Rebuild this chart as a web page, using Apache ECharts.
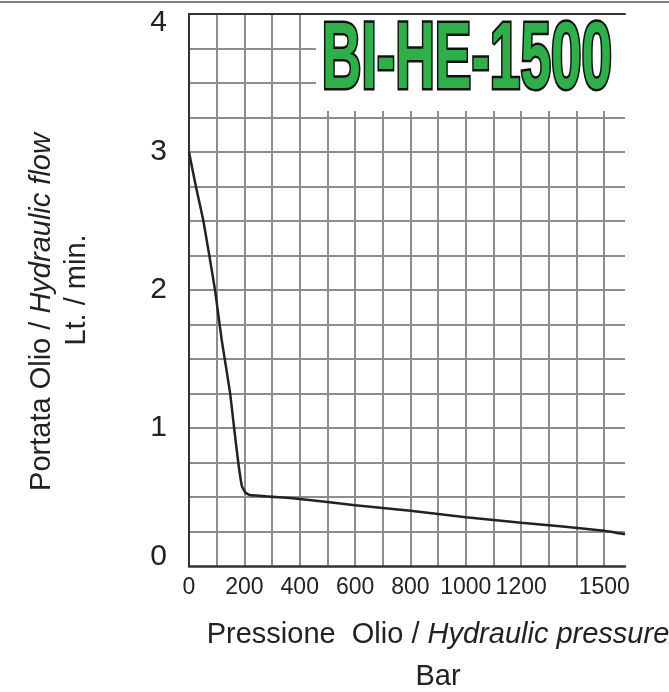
<!DOCTYPE html>
<html>
<head>
<meta charset="utf-8">
<script src="https://cdn.jsdelivr.net/npm/echarts@6/dist/echarts.min.js"></script>
<style>
  html, body { margin: 0; padding: 0; background: #fff; }
  #chart { width: 669px; height: 692px; }
</style>
</head>
<body>
<div id="chart"></div>
<script>
  // pressione (bar) / portata (l/min)
  const pressure = [0, 25, 52, 94, 118, 148, 163, 178, 191, 205, 220, 400, 600, 800, 1000, 1200, 1500, 1575]
  const flow = [3.0, 2.75, 2.5, 2.0, 1.64, 1.26, 1.0, 0.75, 0.58, 0.53, 0.515, 0.486, 0.44, 0.4, 0.353, 0.314, 0.256, 0.23]
  const xTickLabels = ['0', '200', '400', '600', '800', '1000', '1200', '1500']
  const yTickLabels = ['0', '1', '2', '3', '4']
  const titleText = 'BI-HE-1500'

  const gridColor = '#8a8c96'
  const textColor = '#222'

  const chart = echarts.init(document.getElementById('chart'))

  const option = {
    animation: false,
    grid: {
      left: 189,
      right: 44,
      top: 14,
      bottom: 126,
      containLabel: false,
      outerBoundsMode: 'none',
    },
    xAxis: [
      {
        type: 'value',
        min: 0,
        max: 1575,
        interval: 100,
        name: '{a|Pressione  Olio / }{b|Hydraulic pressure}\n{a|Bar}',
        nameLocation: 'middle',
        nameGap: 48,
        nameTextStyle: {
          padding: [0, 0, 0, 62],
          rich: {
            a: { fontFamily: 'Liberation Sans', fontSize: 29, color: textColor, lineHeight: 42 },
            b: { fontFamily: 'Liberation Sans', fontSize: 29, color: textColor, lineHeight: 42, fontStyle: 'italic' },
          },
        },
        axisLine: { show: true, onZero: false, lineStyle: { color: '#333', width: 2.5 } },
        axisTick: { show: false },
        axisLabel: {
          margin: 10,
          fontFamily: 'Liberation Sans',
          fontSize: 23,
          color: textColor,
          formatter: (v) => (xTickLabels.includes(String(v)) ? String(v) : ''),
        },
        splitLine: {
          show: true,
          showMinLine: false,
          showMaxLine: false,
          lineStyle: { color: gridColor, width: 2 },
        },
      },
      {
        // bordo superiore
        type: 'value',
        position: 'top',
        min: 0,
        max: 1575,
        axisLine: { show: true, onZero: false, lineStyle: { color: '#333', width: 2 } },
        axisTick: { show: false },
        axisLabel: { show: false },
        splitLine: { show: false },
      },
    ],
    yAxis: {
      type: 'value',
      min: 0,
      max: 4,
      interval: 0.25,
      name: '{a|Portata Olio / }{c|Hydraulic flow}\n{a|Lt. / min.}',
      nameLocation: 'middle',
      nameRotate: 90,
      nameGap: 95,
      nameTextStyle: {
        rich: {
          a: { fontFamily: 'Liberation Sans', fontSize: 29, color: textColor, lineHeight: 35 },
          c: {
            fontFamily: 'Liberation Sans', fontSize: 29, color: textColor, lineHeight: 35,
            fontStyle: 'italic', padding: [0, 44, 0, 0],
          },
        },
      },
      axisLine: { show: true, lineStyle: { color: '#333', width: 2 } },
      axisTick: { show: false },
      axisLabel: {
        margin: 22,
        fontFamily: 'Liberation Sans',
        fontSize: 30,
        lineHeight: 18,
        color: textColor,
        verticalAlignMinLabel: 'bottom',
        verticalAlignMaxLabel: 'top',
        formatter: (v) => (yTickLabels.includes(String(v)) ? String(v) : ''),
      },
      splitLine: {
        show: true,
        showMinLine: false,
        showMaxLine: false,
        lineStyle: { color: gridColor, width: 2 },
      },
    },
    series: [
      {
        type: 'line',
        data: pressure.map((p, i) => [p, flow[i]]),
        symbol: 'none',
        smooth: 0.15,
        lineStyle: { color: '#222', width: 2.5 },
        z: 5,
      },
    ],
    graphic: [
      {
        type: 'line',
        z: 100,
        shape: { x1: 0, y1: 2, x2: 669, y2: 2 },
        style: { stroke: '#555', lineWidth: 1.5 },
      },
      {
        type: 'rect',
        z: 100,
        shape: { x: 316, y: 15, width: 309, height: 96 },
        style: { fill: '#fff' },
      },
      {
        type: 'text',
        z: 101,
        x: 467,
        y: 62,
        scaleX: 0.585,
        style: {
          text: titleText,
          font: 'bold 94px "Liberation Sans"',
          fill: '#2eaf4a',
          stroke: '#111',
          lineWidth: 5,
          align: 'center',
          verticalAlign: 'middle',
        },
      },
    ],
  }

  chart.setOption(option)
</script>
</body>
</html>
